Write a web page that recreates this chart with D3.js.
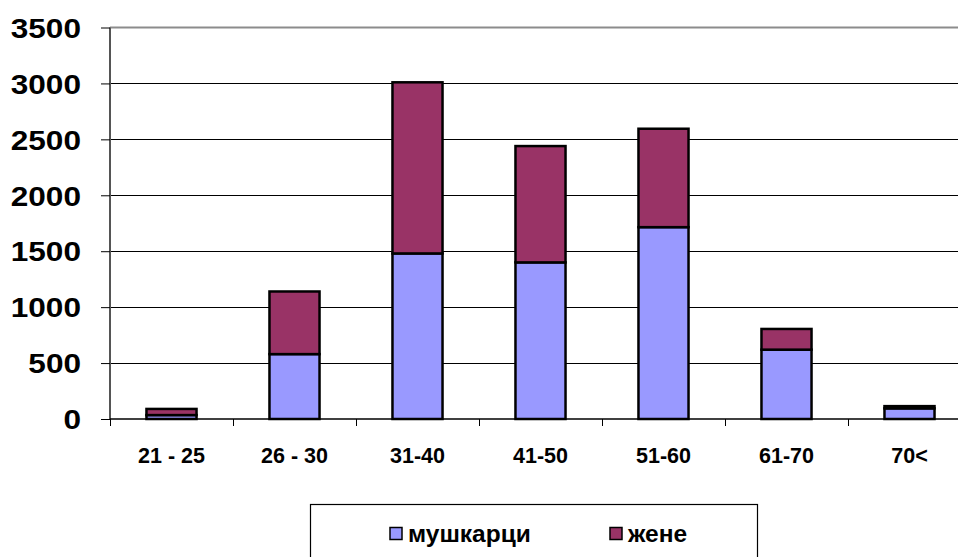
<!DOCTYPE html>
<html>
<head>
<meta charset="utf-8">
<script src="https://cdn.jsdelivr.net/npm/d3@7/dist/d3.min.js"></script>
<style>
  html, body { margin: 0; padding: 0; background: #fff; }
  svg { display: block; }
  text { font-family: "Liberation Sans", Arial, sans-serif; font-weight: bold; fill: #000; }
</style>
</head>
<body>
<svg id="chart" width="958" height="557"></svg>
<script>
const categories = ["21 - 25", "26 - 30", "31-40", "41-50", "51-60", "61-70", "70<"];
const men   = [35, 580, 1480, 1400, 1715, 620, 95];
const women = [55, 560, 1530, 1040, 880, 185, 20];
const seriesNames = ["мушкарци", "жене"];
const seriesColors = ["#9999FF", "#993366"];
const yTicks = [0, 500, 1000, 1500, 2000, 2500, 3000, 3500];

const svg = d3.select("#chart");
const pLeft = 110, pRight = 971, pTop = 27.5, pBottom = 419;

const x = d3.scaleBand().domain(categories).range([pLeft, pRight]).padding(0);
const y = d3.scaleLinear().domain([0, 3500]).range([pBottom, pTop]);

// gridlines
svg.append("g").selectAll("line").data(yTicks.filter(t => t > 0 && t < 3500)).join("line")
  .attr("x1", pLeft).attr("x2", pRight)
  .attr("y1", d => Math.round(y(d)) + 0.5).attr("y2", d => Math.round(y(d)) + 0.5)
  .attr("stroke", "#000").attr("stroke-width", 1);
// top border (gray)
svg.append("line").attr("x1", pLeft).attr("x2", pRight)
  .attr("y1", y(3500)).attr("y2", y(3500))
  .attr("stroke", "#8c8c8c").attr("stroke-width", 2);

// stacked data
const stackData = categories.map((c, i) => ({cat: c, m: men[i], w: women[i]}));
const stack = d3.stack().keys(["m", "w"])(stackData);

const barFrac = 0.407;
const bw = x.bandwidth() * barFrac;
const off = (x.bandwidth() - bw) / 2;

stack.forEach((layer, li) => {
  svg.append("g").selectAll("rect").data(layer).join("rect")
    .attr("x", d => x(d.data.cat) + off)
    .attr("width", bw)
    .attr("y", d => y(d[1]))
    .attr("height", d => y(d[0]) - y(d[1]))
    .attr("fill", seriesColors[li])
    .attr("stroke", "#000")
    .attr("stroke-width", 2.5);
});

// y axis
const ySX = 1.17;
const yAxis = svg.append("g").attr("transform", `translate(${pLeft},0)`)
  .call(d3.axisLeft(y).tickValues(yTicks).tickSize(9).tickPadding(29).tickFormat(d3.format("d")));
yAxis.select(".domain").attr("stroke", "#555").attr("stroke-width", 2).attr("d", `M0,${pTop}V${pBottom}`);
yAxis.selectAll(".tick line").attr("stroke", "#000");
yAxis.selectAll(".tick text").style("font-size", "27px").attr("dy", "0.36em")
  .attr("x", -29 / ySX).attr("transform", `scale(${ySX},1)`);

// x axis
const xAxis = svg.append("g").attr("transform", `translate(0,${pBottom})`)
  .call(d3.axisBottom(x).tickSize(0).tickPadding(0));
xAxis.select(".domain").attr("stroke", "#000").attr("stroke-width", 1.5).attr("d", `M${pLeft},0H${pRight}`);
xAxis.selectAll(".tick text").style("font-size", "21.5px").attr("dy", null).attr("y", 44);
// category boundary ticks
svg.append("g").selectAll("line").data(categories).join("line")
  .attr("x1", d => x(d) + 0.5).attr("x2", d => x(d) + 0.5)
  .attr("y1", pBottom).attr("y2", pBottom + 7)
  .attr("stroke", "#000").attr("stroke-width", 1);

// legend
const lg = svg.append("g");
lg.append("rect").attr("x", 310.5).attr("y", 504.5).attr("width", 447).attr("height", 70)
  .attr("fill", "#fff").attr("stroke", "#000").attr("stroke-width", 1.2);
const legendX = [390, 610];
seriesNames.forEach((n, i) => {
  lg.append("rect").attr("x", legendX[i]).attr("y", 527.5).attr("width", 12).attr("height", 12)
    .attr("fill", seriesColors[i]).attr("stroke", "#000").attr("stroke-width", 1.5);
  lg.append("text").attr("x", legendX[i] + 18).attr("y", 542).style("font-size", "24.5px").text(n);
});
</script>
</body>
</html>
